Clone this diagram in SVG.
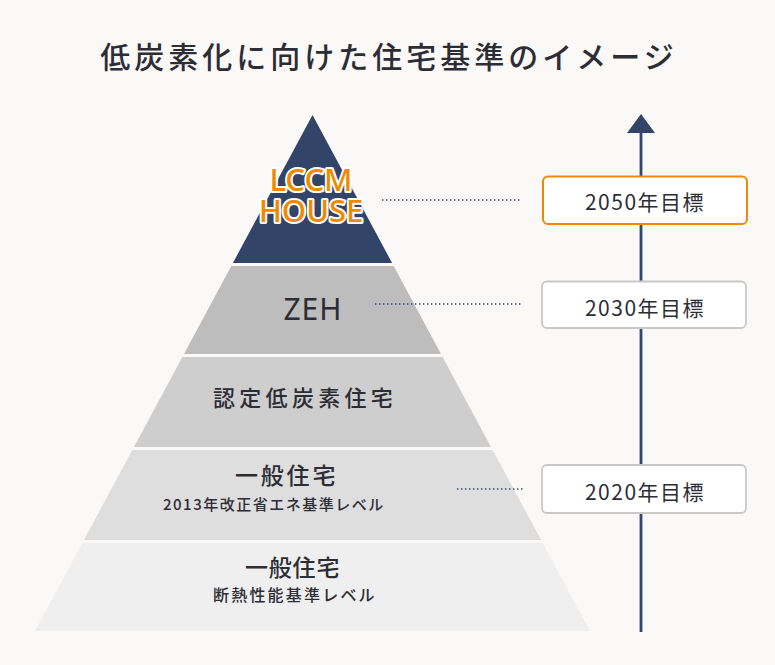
<svg xmlns="http://www.w3.org/2000/svg" width="775" height="665" viewBox="0 0 775 665">
<defs>
<style>
.jp{font-family:"Noto Sans CJK JP","Noto Sans",sans-serif;fill:#2d2d35;}
.lat{font-family:"Noto Sans","Noto Sans CJK JP",sans-serif;fill:#2d2d35;}
.box{fill:#ffffff;stroke:#c8c8c8;stroke-width:1.8;}
.goal{font-family:"Noto Sans CJK JP","Noto Sans",sans-serif;fill:#2d2d35;font-size:21px;letter-spacing:1.5px;font-weight:400;}
.dot{stroke:#334469;stroke-width:1.6;stroke-dasharray:1.4 2.6;fill:none;}
</style>
</defs>
<rect width="775" height="665" fill="#faf9f7"/>
<text class="jp" x="389" y="68" font-size="30" font-weight="500" letter-spacing="4" text-anchor="middle">低炭素化に向けた住宅基準のイメージ</text>

<g id="layer-lccm">
<polygon points="312.5,115 392.1,263 232.9,263" fill="#334469"/>
<g font-family="'Noto Sans','Liberation Sans',sans-serif" font-size="31" font-weight="500" fill="#ef8a00" stroke="#ffffff" stroke-width="4" stroke-linejoin="round" paint-order="stroke" text-anchor="middle" letter-spacing="0">
<text x="311" y="191">LCCM</text>
<text x="311" y="222">HOUSE</text>
</g>
</g>
<g id="layer-zeh">
<polygon points="231.3,266 393.7,266 441,354 184,354" fill="#bdbdbd"/>
<text class="lat" x="313" y="320" font-size="30" font-weight="400" text-anchor="middle" letter-spacing="1">ZEH</text>
</g>
<g id="layer-nintei">
<polygon points="182.4,357 442.6,357 491,447 134,447" fill="#cecece"/>
<text class="jp" x="213" y="406" font-size="22" font-weight="500" letter-spacing="4.3">認定低炭素住宅</text>
</g>
<g id="layer-ippan2013">
<polygon points="132.3,450 492.7,450 541.1,540 83.9,540" fill="#dedede"/>
<text class="jp" x="235" y="484" font-size="23" font-weight="500" letter-spacing="2.8">一般住宅</text>
<text class="jp" x="163" y="510" font-size="15" font-weight="500" letter-spacing="1.5">2013年改正省エネ基準レベル</text>
</g>
<g id="layer-ippan">
<polygon points="82.3,543 542.7,543 590,631 35,631" fill="#efefef"/>
<text class="jp" x="245" y="576" font-size="23" font-weight="500" letter-spacing="0.8">一般住宅</text>
<text class="jp" x="213" y="601" font-size="16" font-weight="500" letter-spacing="2.2">断熱性能基準レベル</text>
</g>

<g id="connectors">
<line x1="641" y1="632" x2="641" y2="132" stroke="#344570" stroke-width="2.8"/>
<path d="M627,133 L641,114 L655,133 Z" fill="#334469"/>
<line class="dot" x1="382" y1="200" x2="520" y2="200"/>
<line class="dot" x1="375" y1="304" x2="523" y2="304"/>
<line class="dot" x1="457" y1="489" x2="525" y2="489"/>
</g>

<g id="goal-2050">
<rect x="543" y="176.5" width="204" height="47.5" rx="5" fill="#ffffff" stroke="#ef8a00" stroke-width="2"/>
<text class="goal" x="645" y="210" text-anchor="middle">2050年目標</text>
</g>
<g id="goal-2030">
<rect class="box" x="542" y="281.5" width="204" height="46.5" rx="5"/>
<text class="goal" x="645" y="316" text-anchor="middle">2030年目標</text>
</g>
<g id="goal-2020">
<rect class="box" x="542" y="465" width="204" height="48" rx="5"/>
<text class="goal" x="645" y="500" text-anchor="middle">2020年目標</text>
</g>
</svg>
